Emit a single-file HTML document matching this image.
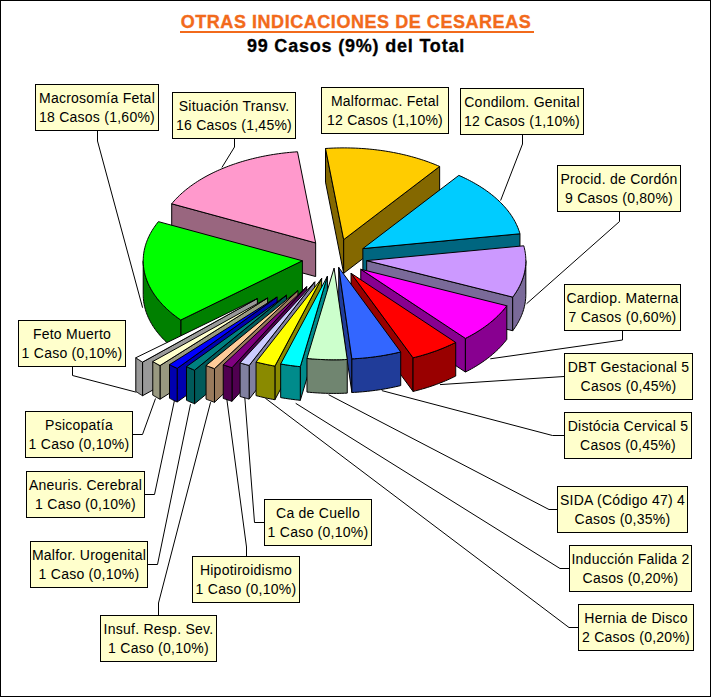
<!DOCTYPE html>
<html><head><meta charset="utf-8">
<style>
html,body{margin:0;padding:0;background:#fff;}
body{width:711px;height:697px;position:relative;overflow:hidden;font-family:"Liberation Sans",sans-serif;}
#frame{position:absolute;left:0;top:0;width:709px;height:695px;border:1px solid #000;}
svg{position:absolute;left:0;top:0;}
.t{position:absolute;left:0;width:711px;text-align:center;font-weight:bold;font-size:18px;line-height:18px;letter-spacing:0.55px;white-space:nowrap;}
#ul{position:absolute;left:180px;top:31px;width:354px;height:2px;background:#F26A1B;}
#t1{top:13px;left:0.5px;color:#F26A1B;-webkit-text-stroke:0.35px #F26A1B;}
#t2{top:37px;left:0.5px;color:#000;letter-spacing:0.8px;-webkit-text-stroke:0.3px #000;}
.lb{position:absolute;box-sizing:border-box;border:1px solid #000;background:#FFFFCC;font-size:14px;line-height:19.2px;text-align:center;white-space:nowrap;letter-spacing:0.25px;padding-top:4px;color:#000;}
</style></head><body>
<div id="frame"></div>
<div id="ul"></div><div class="t" id="t1">OTRAS INDICACIONES DE CESAREAS</div>
<div class="t" id="t2">99 Casos (9%) del Total</div>
<svg width="711" height="697" viewBox="0 0 711 697">
<g fill="none" stroke="#000" stroke-width="1">
<polyline points="97.5,131 97.5,141 142.6,307.7"/>
<polyline points="234.5,139 234.5,147 221.9,167.5"/>
<polyline points="522.5,135 522.5,144 500.6,200.5"/>
<polyline points="619.5,212 619.5,221.5 526.5,303.8"/>
<polyline points="622.5,331 622.5,340 490.3,358.8"/>
<polyline points="564,376.5 440,384.6"/>
<polyline points="564,435.5 552.5,435.5 381.8,390.6"/>
<polyline points="557,509.5 549,509.5 328.6,394.7"/>
<polyline points="569,568.5 560,568.5 295.7,403.3"/>
<polyline points="578,627.5 569,627.5 265.3,398.2"/>
<polyline points="72.5,367 72.5,375.5 136.3,392.2"/>
<polyline points="133,434.5 142.5,434.5 155.5,398.5"/>
<polyline points="145,494.5 154.5,494.5 174.5,400.2"/>
<polyline points="148,564.5 157.5,564.5 190.5,404.2"/>
<polyline points="158.5,615 158.5,603 210.6,402.2"/>
<polyline points="246.5,556 246.5,547 226.7,398.2"/>
<polyline points="264,522.5 254.5,522.5 244.7,396.2"/>
</g>
<g stroke="#000" stroke-width="1" stroke-linejoin="round">
<polygon points="343.68,239.65 325.50,148.49 325.50,182.12 343.68,273.28" fill="#846800"/>
<polygon points="343.68,239.65 439.65,166.44 439.65,200.07 343.68,273.28" fill="#846800"/>
<polygon points="343.68,239.65 325.50,148.49 328.24,148.32 330.99,148.18 333.73,148.07 336.49,147.98 339.24,147.93 341.99,147.89 344.75,147.89 347.50,147.92 350.26,147.97 353.01,148.05 355.76,148.15 358.50,148.29 361.25,148.45 363.98,148.64 366.71,148.85 369.43,149.10 372.15,149.37 374.85,149.67 377.55,149.99 380.24,150.34 382.91,150.72 385.58,151.12 388.23,151.56 390.87,152.01 393.49,152.50 396.10,153.01 398.70,153.54 401.27,154.11 403.83,154.69 406.38,155.31 408.90,155.94 411.40,156.61 413.89,157.30 416.35,158.01 418.79,158.75 421.21,159.51 423.60,160.29 425.97,161.10 428.32,161.93 430.64,162.79 432.93,163.67 435.20,164.57 437.44,165.50 439.65,166.44" fill="#FFCC00"/>
<polygon points="315.67,242.93 171.71,203.77 171.71,237.40 315.67,276.56" fill="#99667F"/>
<polygon points="315.67,242.93 171.71,203.77 172.90,202.35 174.13,200.94 175.41,199.54 176.73,198.16 178.08,196.78 179.48,195.43 180.92,194.08 182.40,192.75 183.92,191.44 185.47,190.14 187.07,188.85 188.70,187.59 190.37,186.33 192.08,185.10 193.83,183.88 195.61,182.68 197.42,181.50 199.27,180.34 201.16,179.19 203.08,178.06 205.03,176.96 207.02,175.87 209.04,174.80 211.09,173.75 213.17,172.73 215.28,171.72 217.42,170.73 219.59,169.77 221.79,168.83 224.02,167.91 226.27,167.01 228.55,166.13 230.85,165.28 233.19,164.45 235.54,163.64 237.92,162.86 240.32,162.10 242.75,161.37 245.19,160.65 247.66,159.97 250.15,159.30 252.65,158.67 255.18,158.05 257.72,157.47 260.28,156.90 262.86,156.37 265.45,155.86 268.06,155.37 270.68,154.91 273.31,154.48 275.96,154.07 278.62,153.69 281.29,153.34 283.97,153.01 286.66,152.71 289.36,152.43 292.06,152.19 294.77,151.96 297.49,151.77" fill="#FF99CC"/>
<polygon points="362.87,248.58 519.96,233.78 519.96,267.41 362.87,282.21" fill="#006680"/>
<polygon points="362.87,248.58 458.84,175.38 461.02,176.35 463.18,177.34 465.30,178.35 467.40,179.38 469.46,180.43 471.49,181.51 473.49,182.60 475.45,183.72 477.38,184.85 479.28,186.00 481.14,187.17 482.97,188.36 484.76,189.57 486.51,190.79 488.23,192.03 489.91,193.29 491.55,194.57 493.15,195.86 494.71,197.17 496.24,198.49 497.72,199.83 499.16,201.18 500.57,202.55 501.93,203.93 503.25,205.32 504.53,206.73 505.76,208.15 506.96,209.58 508.10,211.03 509.21,212.48 510.27,213.95 511.29,215.42 512.26,216.91 513.19,218.40 514.08,219.91 514.91,221.42 515.71,222.94 516.45,224.47 517.16,226.01 517.81,227.55 518.42,229.10 518.98,230.65 519.50,232.21 519.96,233.78" fill="#00CCFF"/>
<polygon points="366.66,260.61 512.70,297.11 512.70,330.74 366.66,294.24" fill="#7A6A99"/>
<polygon points="525.84,260.61 525.83,261.62 525.78,263.21 525.68,264.80 525.53,266.38 525.33,267.97 525.09,269.55 524.79,271.13 524.45,272.70 524.07,274.28 523.63,275.84 523.15,277.41 522.62,278.97 522.05,280.52 521.43,282.07 520.76,283.61 520.05,285.14 519.29,286.67 518.48,288.19 517.63,289.70 516.73,291.20 515.79,292.69 514.81,294.18 513.78,295.65 512.70,297.11 512.70,330.74 513.78,329.28 514.81,327.81 515.79,326.32 516.73,324.83 517.63,323.33 518.48,321.82 519.29,320.30 520.05,318.77 520.76,317.24 521.43,315.70 522.05,314.15 522.62,312.60 523.15,311.04 523.63,309.47 524.07,307.91 524.45,306.33 524.79,304.76 525.09,303.18 525.33,301.60 525.53,300.01 525.68,298.43 525.78,296.84 525.83,295.25 525.84,294.24" fill="#7A6A99"/>
<polygon points="366.66,260.61 523.76,245.80 524.18,247.37 524.55,248.95 524.88,250.52 525.16,252.10 525.39,253.69 525.57,255.27 525.71,256.86 525.80,258.44 525.84,260.03 525.83,261.62 525.78,263.21 525.68,264.80 525.53,266.38 525.33,267.97 525.09,269.55 524.79,271.13 524.45,272.70 524.07,274.28 523.63,275.84 523.15,277.41 522.62,278.97 522.05,280.52 521.43,282.07 520.76,283.61 520.05,285.14 519.29,286.67 518.48,288.19 517.63,289.70 516.73,291.20 515.79,292.69 514.81,294.18 513.78,295.65 512.70,297.11" fill="#CC99FF"/>
<polygon points="302.39,260.78 180.79,320.00 180.79,353.63 302.39,294.41" fill="#008000"/>
<polygon points="180.79,320.00 179.03,318.78 177.31,317.54 175.63,316.28 173.98,315.01 172.37,313.72 170.80,312.41 169.27,311.09 167.78,309.76 166.33,308.41 164.92,307.04 163.55,305.66 162.22,304.27 160.94,302.87 159.70,301.45 158.50,300.02 157.34,298.58 156.23,297.13 155.16,295.66 154.13,294.19 153.15,292.70 152.21,291.21 151.32,289.71 150.48,288.20 149.68,286.68 148.92,285.15 148.21,283.61 147.55,282.07 146.93,280.52 146.36,278.97 145.84,277.41 145.37,275.85 144.94,274.28 144.56,272.71 144.22,271.13 143.93,269.55 143.69,267.97 143.50,266.38 143.36,264.80 143.26,263.21 143.21,261.62 143.21,260.78 143.21,294.41 143.21,295.25 143.26,296.84 143.36,298.43 143.50,300.01 143.69,301.60 143.93,303.18 144.22,304.76 144.56,306.34 144.94,307.91 145.37,309.48 145.84,311.04 146.36,312.60 146.93,314.16 147.55,315.70 148.21,317.25 148.92,318.78 149.68,320.31 150.48,321.83 151.32,323.34 152.21,324.84 153.15,326.34 154.13,327.82 155.16,329.29 156.23,330.76 157.34,332.21 158.50,333.65 159.70,335.08 160.94,336.50 162.22,337.90 163.55,339.30 164.92,340.67 166.33,342.04 167.78,343.39 169.27,344.72 170.80,346.05 172.37,347.35 173.98,348.64 175.63,349.91 177.31,351.17 179.03,352.41 180.79,353.63" fill="#008000"/>
<polygon points="302.39,260.78 180.79,320.00 179.03,318.78 177.31,317.54 175.63,316.28 173.98,315.01 172.37,313.72 170.80,312.41 169.27,311.09 167.78,309.76 166.33,308.41 164.92,307.04 163.55,305.66 162.22,304.27 160.94,302.87 159.70,301.45 158.50,300.02 157.34,298.58 156.23,297.13 155.16,295.66 154.13,294.19 153.15,292.70 152.21,291.21 151.32,289.71 150.48,288.20 149.68,286.68 148.92,285.15 148.21,283.61 147.55,282.07 146.93,280.52 146.36,278.97 145.84,277.41 145.37,275.85 144.94,274.28 144.56,272.71 144.22,271.13 143.93,269.55 143.69,267.97 143.50,266.38 143.36,264.80 143.26,263.21 143.21,261.62 143.21,260.03 143.26,258.45 143.35,256.86 143.49,255.27 143.68,253.69 143.92,252.11 144.20,250.53 144.53,248.95 144.91,247.38 145.34,245.81 145.81,244.24 146.33,242.68 146.90,241.13 147.51,239.58 148.17,238.04 148.88,236.50 149.63,234.98 150.43,233.45 151.27,231.94 152.16,230.44 153.09,228.95 154.07,227.46 155.10,225.99 156.16,224.52 157.27,223.07 158.43,221.63" fill="#00FF00"/>
<polygon points="360.77,269.26 465.42,338.40 465.42,372.03 360.77,302.89" fill="#880090"/>
<polygon points="506.81,305.76 505.71,307.19 504.56,308.61 503.37,310.02 502.14,311.42 500.87,312.81 499.56,314.18 498.21,315.54 496.82,316.89 495.39,318.22 493.91,319.54 492.40,320.85 490.86,322.14 489.27,323.41 487.65,324.67 485.99,325.91 484.29,327.13 482.55,328.34 480.78,329.53 478.98,330.71 477.14,331.86 475.27,333.00 473.36,334.12 471.42,335.22 469.45,336.30 467.45,337.36 465.42,338.40 465.42,372.03 467.45,370.99 469.45,369.93 471.42,368.85 473.36,367.75 475.27,366.63 477.14,365.49 478.98,364.34 480.78,363.16 482.55,361.97 484.29,360.76 485.99,359.54 487.65,358.30 489.27,357.04 490.86,355.77 492.40,354.48 493.91,353.17 495.39,351.86 496.82,350.52 498.21,349.18 499.56,347.81 500.87,346.44 502.14,345.05 503.37,343.66 504.56,342.25 505.71,340.82 506.81,339.39" fill="#880090"/>
<polygon points="360.77,269.26 506.81,305.76 505.71,307.19 504.56,308.61 503.37,310.02 502.14,311.42 500.87,312.81 499.56,314.18 498.21,315.54 496.82,316.89 495.39,318.22 493.91,319.54 492.40,320.85 490.86,322.14 489.27,323.41 487.65,324.67 485.99,325.91 484.29,327.13 482.55,328.34 480.78,329.53 478.98,330.71 477.14,331.86 475.27,333.00 473.36,334.12 471.42,335.22 469.45,336.30 467.45,337.36 465.42,338.40" fill="#FF00FF"/>
<polygon points="257.39,298.54 142.56,362.09 142.56,395.72 257.39,332.18" fill="#999999"/>
<polygon points="142.56,362.09 141.56,361.49 140.58,360.88 139.60,360.26 138.63,359.65 137.68,359.02 136.73,358.40 135.80,357.76 135.80,391.39 136.73,392.03 137.68,392.65 138.63,393.28 139.60,393.90 140.58,394.51 141.56,395.12 142.56,395.72" fill="#999999"/>
<polygon points="257.39,298.54 142.56,362.09 141.56,361.49 140.58,360.88 139.60,360.26 138.63,359.65 137.68,359.02 136.73,358.40 135.80,357.76" fill="#FFFFFF"/>
<polygon points="267.61,297.97 160.00,365.58 160.00,399.22 267.61,331.60" fill="#999980"/>
<polygon points="160.00,365.58 158.94,365.02 157.89,364.45 156.85,363.87 155.82,363.29 154.79,362.70 153.78,362.11 152.77,361.51 152.77,395.15 153.78,395.74 154.79,396.34 155.82,396.92 156.85,397.50 157.89,398.08 158.94,398.65 160.00,399.22" fill="#999980"/>
<polygon points="267.61,297.97 160.00,365.58 158.94,365.02 157.89,364.45 156.85,363.87 155.82,363.29 154.79,362.70 153.78,362.11 152.77,361.51" fill="#FFFFCC"/>
<polygon points="277.12,296.99 177.17,368.40 177.17,402.03 277.12,330.62" fill="#0000B0"/>
<polygon points="177.17,368.40 176.05,367.88 174.94,367.34 173.83,366.81 172.74,366.27 171.66,365.72 170.58,365.16 169.51,364.60 169.51,398.23 170.58,398.79 171.66,399.35 172.74,399.90 173.83,400.44 174.94,400.98 176.05,401.51 177.17,402.03" fill="#0000B0"/>
<polygon points="277.12,296.99 177.17,368.40 176.05,367.88 174.94,367.34 173.83,366.81 172.74,366.27 171.66,365.72 170.58,365.16 169.51,364.60" fill="#0000FF"/>
<polygon points="286.45,295.24 194.56,370.16 194.56,403.79 286.45,328.87" fill="#005A5A"/>
<polygon points="194.56,370.16 193.38,369.68 192.21,369.19 191.05,368.69 189.90,368.19 188.76,367.68 187.62,367.17 186.50,366.65 186.50,400.28 187.62,400.80 188.76,401.31 189.90,401.82 191.05,402.32 192.21,402.82 193.38,403.31 194.56,403.79" fill="#005A5A"/>
<polygon points="286.45,295.24 194.56,370.16 193.38,369.68 192.21,369.19 191.05,368.69 189.90,368.19 188.76,367.68 187.62,367.17 186.50,366.65" fill="#008080"/>
<polygon points="297.94,290.54 214.47,368.67 214.47,402.30 297.94,324.17" fill="#997A5C"/>
<polygon points="214.47,368.67 213.25,368.23 212.03,367.78 210.82,367.33 209.61,366.87 208.41,366.41 207.23,365.94 206.04,365.46 206.04,399.09 207.23,399.57 208.41,400.04 209.61,400.50 210.82,400.96 212.03,401.41 213.25,401.86 214.47,402.30" fill="#997A5C"/>
<polygon points="297.94,290.54 214.47,368.67 213.25,368.23 212.03,367.78 210.82,367.33 209.61,366.87 208.41,366.41 207.23,365.94 206.04,365.46" fill="#FFCC99"/>
<polygon points="351.07,273.29 413.06,357.81 413.06,391.44 351.07,306.93" fill="#990000"/>
<polygon points="455.72,342.44 453.70,343.43 451.65,344.41 449.58,345.37 447.48,346.31 445.35,347.23 443.19,348.12 441.01,349.00 438.81,349.86 436.58,350.69 434.32,351.50 432.04,352.29 429.74,353.06 427.42,353.81 425.08,354.53 422.71,355.23 420.33,355.91 417.93,356.57 415.50,357.20 413.06,357.81 413.06,391.44 415.50,390.83 417.93,390.20 420.33,389.54 422.71,388.86 425.08,388.16 427.42,387.44 429.74,386.69 432.04,385.92 434.32,385.13 436.58,384.32 438.81,383.49 441.01,382.63 443.19,381.76 445.35,380.86 447.48,379.94 449.58,379.00 451.65,378.04 453.70,377.06 455.72,376.07" fill="#990000"/>
<polygon points="351.07,273.29 455.72,342.44 453.70,343.43 451.65,344.41 449.58,345.37 447.48,346.31 445.35,347.23 443.19,348.12 441.01,349.00 438.81,349.86 436.58,350.69 434.32,351.50 432.04,352.29 429.74,353.06 427.42,353.81 425.08,354.53 422.71,355.23 420.33,355.91 417.93,356.57 415.50,357.20 413.06,357.81" fill="#FF0000"/>
<polygon points="306.69,286.66 231.99,367.68 231.99,401.31 306.69,320.29" fill="#500050"/>
<polygon points="231.99,367.68 230.71,367.29 229.45,366.89 228.19,366.48 226.94,366.07 225.69,365.65 224.45,365.22 223.22,364.79 223.22,398.42 224.45,398.85 225.69,399.28 226.94,399.70 228.19,400.11 229.45,400.52 230.71,400.92 231.99,401.31" fill="#500050"/>
<polygon points="306.69,286.66 231.99,367.68 230.71,367.29 229.45,366.89 228.19,366.48 226.94,366.07 225.69,365.65 224.45,365.22 223.22,364.79" fill="#800080"/>
<polygon points="314.79,281.85 249.15,365.44 249.15,399.07 314.79,315.48" fill="#8080A0"/>
<polygon points="249.15,365.44 247.84,365.10 246.53,364.74 245.23,364.38 243.94,364.02 242.65,363.64 241.36,363.26 240.09,362.88 240.09,396.51 241.36,396.89 242.65,397.27 243.94,397.65 245.23,398.01 246.53,398.37 247.84,398.73 249.15,399.07" fill="#8080A0"/>
<polygon points="314.79,281.85 249.15,365.44 247.84,365.10 246.53,364.74 245.23,364.38 243.94,364.02 242.65,363.64 241.36,363.26 240.09,362.88" fill="#CCCCFF"/>
<polygon points="321.67,278.40 274.92,366.11 274.92,399.74 321.67,312.03" fill="#8A8A00"/>
<polygon points="274.92,366.11 272.52,365.67 270.12,365.21 267.74,364.72 265.37,364.22 263.01,363.69 260.67,363.15 258.35,362.58 256.04,361.99 256.04,395.62 258.35,396.21 260.67,396.78 263.01,397.33 265.37,397.85 267.74,398.36 270.12,398.84 272.52,399.30 274.92,399.74" fill="#8A8A00"/>
<polygon points="321.67,278.40 274.92,366.11 272.52,365.67 270.12,365.21 267.74,364.72 265.37,364.22 263.01,363.69 260.67,363.15 258.35,362.58 256.04,361.99" fill="#FFFF00"/>
<polygon points="338.72,267.42 351.88,358.87 351.88,392.50 338.72,301.06" fill="#203C99"/>
<polygon points="400.72,351.94 398.26,352.52 395.79,353.08 393.30,353.62 390.79,354.13 388.27,354.62 385.74,355.09 383.19,355.53 380.63,355.94 378.06,356.33 375.48,356.70 372.89,357.04 370.29,357.36 367.68,357.65 365.06,357.92 362.44,358.16 359.80,358.37 357.17,358.56 354.52,358.73 351.88,358.87 351.88,392.50 354.52,392.36 357.17,392.19 359.80,392.00 362.44,391.79 365.06,391.55 367.68,391.28 370.29,390.99 372.89,390.67 375.48,390.33 378.06,389.97 380.63,389.58 383.19,389.16 385.74,388.72 388.27,388.25 390.79,387.76 393.30,387.25 395.79,386.71 398.26,386.15 400.72,385.57" fill="#203C99"/>
<polygon points="338.72,267.42 400.72,351.94 398.26,352.52 395.79,353.08 393.30,353.62 390.79,354.13 388.27,354.62 385.74,355.09 383.19,355.53 380.63,355.94 378.06,356.33 375.48,356.70 372.89,357.04 370.29,357.36 367.68,357.65 365.06,357.92 362.44,358.16 359.80,358.37 357.17,358.56 354.52,358.73 351.88,358.87" fill="#3366FF"/>
<polygon points="327.41,276.25 300.30,366.66 300.30,400.30 327.41,309.88" fill="#008B8B"/>
<polygon points="300.30,366.66 297.81,366.40 295.33,366.12 292.87,365.82 290.40,365.49 287.95,365.14 285.51,364.77 283.08,364.37 280.66,363.96 280.66,397.59 283.08,398.01 285.51,398.40 287.95,398.77 290.40,399.12 292.87,399.45 295.33,399.75 297.81,400.04 300.30,400.30" fill="#008B8B"/>
<polygon points="327.41,276.25 300.30,366.66 297.81,366.40 295.33,366.12 292.87,365.82 290.40,365.49 287.95,365.14 285.51,364.77 283.08,364.37 280.66,363.96" fill="#00FFFF"/>
<polygon points="347.25,359.48 344.56,359.59 341.87,359.68 339.18,359.75 336.48,359.78 333.79,359.79 331.10,359.78 328.40,359.73 325.71,359.67 323.02,359.57 320.34,359.45 317.66,359.30 314.98,359.13 312.31,358.93 309.64,358.70 306.98,358.45 306.98,392.08 309.64,392.34 312.31,392.56 314.98,392.76 317.66,392.93 320.34,393.08 323.02,393.20 325.71,393.30 328.40,393.37 331.10,393.41 333.79,393.42 336.48,393.41 339.18,393.38 341.87,393.32 344.56,393.23 347.25,393.11" fill="#708570"/>
<polygon points="334.09,268.04 347.25,359.48 344.56,359.59 341.87,359.68 339.18,359.75 336.48,359.78 333.79,359.79 331.10,359.78 328.40,359.73 325.71,359.67 323.02,359.57 320.34,359.45 317.66,359.30 314.98,359.13 312.31,358.93 309.64,358.70 306.98,358.45" fill="#CCFFCC"/>
</g>
</svg>
<div class="lb" style="left:35px;top:84px;width:124px;height:47px">Macrosomía Fetal<br>18 Casos (1,60%)</div><div class="lb" style="left:172px;top:92px;width:124px;height:47px">Situación Transv.<br>16 Casos (1,45%)</div><div class="lb" style="left:321px;top:87px;width:128px;height:47px">Malformac. Fetal<br>12 Casos (1,10%)</div><div class="lb" style="left:460px;top:88px;width:124px;height:47px">Condilom. Genital<br>12 Casos (1,10%)</div><div class="lb" style="left:557px;top:165px;width:124px;height:47px">Procid. de Cordón<br>9 Casos (0,80%)</div><div class="lb" style="left:564px;top:284px;width:117px;height:47px">Cardiop. Materna<br>7 Casos (0,60%)</div><div class="lb" style="left:564px;top:353px;width:129px;height:47px">DBT Gestacional 5<br>Casos (0,45%)</div><div class="lb" style="left:564px;top:412px;width:128px;height:47px">Distócia Cervical 5<br>Casos (0,45%)</div><div class="lb" style="left:557px;top:486px;width:131px;height:47px">SIDA (Código 47) 4<br>Casos (0,35%)</div><div class="lb" style="left:569px;top:545px;width:123px;height:47px">Inducción Falida 2<br>Casos (0,20%)</div><div class="lb" style="left:578px;top:604px;width:116px;height:47px">Hernia de Disco<br>2 Casos (0,20%)</div><div class="lb" style="left:18px;top:320px;width:108px;height:47px">Feto Muerto<br>1 Caso (0,10%)</div><div class="lb" style="left:25px;top:411px;width:108px;height:47px">Psicopatía<br>1 Caso (0,10%)</div><div class="lb" style="left:26px;top:471px;width:119px;height:47px">Aneuris. Cerebral<br>1 Caso (0,10%)</div><div class="lb" style="left:30px;top:541px;width:118px;height:47px">Malfor. Urogenital<br>1 Caso (0,10%)</div><div class="lb" style="left:100px;top:615px;width:117px;height:47px">Insuf. Resp. Sev.<br>1 Caso (0,10%)</div><div class="lb" style="left:192px;top:556px;width:108px;height:47px">Hipotiroidismo<br>1 Caso (0,10%)</div><div class="lb" style="left:264px;top:499px;width:108px;height:47px">Ca de Cuello<br>1 Caso (0,10%)</div>
</body></html>
